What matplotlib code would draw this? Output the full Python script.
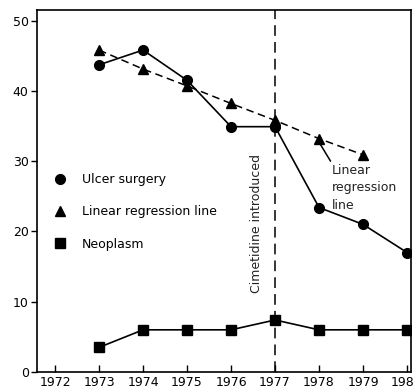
import matplotlib
matplotlib.use("Agg")
import matplotlib.pyplot as plt

years = [1973, 1974, 1975, 1976, 1977, 1978, 1979, 1980]
ulcer_surgery = [43.7, 45.8, 41.5, 34.9, 34.9, 23.4, 21.0, 17.0]
regression_years = [1973, 1974, 1975, 1976, 1977, 1978, 1979]
regression = [45.8, 43.1, 40.7, 38.2, 35.8, 33.2, 30.9]
neoplasm = [3.5, 6.0, 6.0, 6.0, 7.4, 6.0, 6.0, 6.0]
xticks = [1972, 1973, 1974, 1975, 1976, 1977, 1978, 1979, 1980]
yticks = [0, 10, 20, 30, 40, 50]
cimetidine_year = 1977

plt.rcParams['font.family'] = 'DejaVu Sans'
fig = plt.figure(figsize=(4.14, 3.90), dpi=100)
ax = fig.add_axes([37/414, 18/390, 374/414, 362/390])

ax.plot(years, ulcer_surgery, color='k', lw=1.2, marker='o', ms=7, label='Ulcer surgery', zorder=3)
ax.plot(regression_years, regression, color='k', lw=1.1, ls=(0, (5, 3)), marker='^', ms=7.5,
        label='Linear regression line', zorder=3)
ax.plot(years, neoplasm, color='k', lw=1.2, marker='s', ms=6.5, label='Neoplasm', zorder=3)
ax.axvline(cimetidine_year, color='k', lw=1.1, ls=(0, (7, 4)), zorder=2)

ax.text(1976.57, 21.1, 'Cimetidine introduced', rotation=90, ha='center', va='center',
        fontsize=9, color='#222222')
ax.annotate('Linear\nregression\nline', xy=(1977.98, 32.9), xytext=(1978.3, 29.6),
            fontsize=9, color='#222222', ha='left', va='top', linespacing=1.45,
            arrowprops=dict(arrowstyle='-', color='k', lw=1.1, shrinkA=0, shrinkB=3,
                            relpos=(0.0, 1.0)))

# legend shows markers only
handles, labels = ax.get_legend_handles_labels()
leg = ax.legend(handles, labels, loc='upper left', bbox_to_anchor=(0.045, 0.55),
                frameon=False, fontsize=9, handlelength=1.0, handletextpad=1.25,
                labelspacing=1.55, borderpad=0, borderaxespad=0)
for h in leg.legend_handles:
    h.set_linestyle('none')

ax.set_xlim(1971.59, 1980.09)
ax.set_ylim(0, 51.5)
ax.set_xticks(xticks)
ax.set_yticks(yticks)
ax.tick_params(axis='x', direction='in', length=5, width=1, labelsize=9, pad=3)
ax.tick_params(axis='y', direction='out', length=4, width=1, labelsize=9, pad=2)
for s in ax.spines.values():
    s.set_linewidth(1.2)

fig.savefig('out.png', dpi=100)
